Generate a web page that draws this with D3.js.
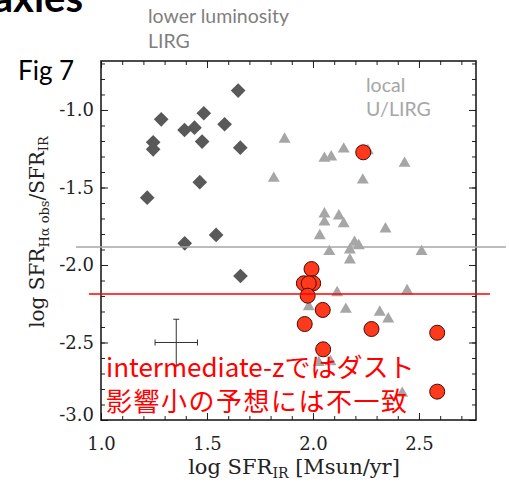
<!DOCTYPE html>
<html>
<head>
<meta charset="utf-8">
<script src="https://cdn.jsdelivr.net/npm/d3@7"></script>
<style>
  html, body { margin: 0; padding: 0; background: #fff; }
  svg { display: block; }
</style>
</head>
<body>
<svg id="chart" width="509" height="484"></svg>
<script>
// --- data ---
// lower luminosity LIRGs (dark diamonds)
const lirgX = [1.647, 1.485, 1.284, 1.583, 1.441, 1.394, 1.246, 1.477, 1.246, 1.657, 1.466, 1.218, 1.543, 1.395, 1.658];
const lirgY = [-0.875, -1.021, -1.060, -1.092, -1.114, -1.129, -1.208, -1.204, -1.254, -1.243, -1.466, -1.566, -1.806, -1.860, -2.071];

// local U/LIRGs (grey triangles)
const localX = [1.866, 1.815, 2.145, 2.259, 2.054, 2.086, 2.432, 2.235, 2.054, 2.054, 2.122, 2.145, 2.342, 2.032,
                2.196, 2.216, 2.174, 2.077, 2.512, 2.174, 2.114, 2.444, 1.980, 2.155, 2.315, 2.355, 2.027, 2.083, 2.421];
const localY = [-1.189, -1.441, -1.252, -1.263, -1.312, -1.303, -1.344, -1.452, -1.671, -1.723, -1.684, -1.734, -1.768, -1.811,
                -1.854, -1.876, -1.903, -1.914, -1.914, -1.968, -2.179, -2.166, -2.269, -2.286, -2.305, -2.348, -2.630, -2.624, -2.828];

// intermediate-z galaxies (red circles)
const interX = [2.237, 1.993, 1.957, 2.001, 1.980, 1.975, 2.046, 1.961, 2.048, 2.276, 2.586, 2.586];
const interY = [-1.273, -2.026, -2.118, -2.118, -2.118, -2.198, -2.290, -2.381, -2.544, -2.413, -2.437, -2.817];

// ticks
const xMajor = [1.0, 1.5, 2.0, 2.5];
const xMinor = d3.range(10, 28).map(d => d / 10);
const yMajor = [-3.0, -2.5, -2.0, -1.5, -1.0];
const yMinor = d3.range(-30, -6).map(d => d / 10);

// reference levels drawn over the slide (grey = local, red = intermediate-z)
const refLevels = [-1.884, -2.187];
const refFrom = [0.882, 0.943];
const refTo = [2.910, 2.835];
const refColors = ["#a6a6a6", "#ff0000"];

// typical error bar
const errCenter = [1.355, -2.5];
const errSize = [0.1, 0.15];

// --- layout ---
const svg = d3.select("#chart");
const pLeft = 101, pRight = 476, pTop = 61, pBottom = 420;

const x = d3.scaleLinear().domain([1.0, 2.769]).range([pLeft, pRight]);
const y = d3.scaleLinear().domain([-3.0, -0.684]).range([pBottom, pTop]);

const serif = "'DejaVu Serif', serif";
const sans = "Lato, 'Open Sans', sans-serif";

// 1) ticks on all four sides, pointing inwards
function tickAxis(gen, transform, values, size, labels) {
  const g = svg.append("g")
    .attr("transform", transform)
    .call(gen.tickValues(values).tickSize(size)
      .tickFormat(labels ? (d => d.toFixed(1)) : ""));
  g.select(".domain").remove();
  g.selectAll("line").attr("stroke", "#222").attr("stroke-width", 1);
  return g;
}

tickAxis(d3.axisBottom(x), `translate(0,${pBottom})`, xMinor, -4, false);
tickAxis(d3.axisTop(x), `translate(0,${pTop})`, xMinor, -4, false);
tickAxis(d3.axisTop(x), `translate(0,${pTop})`, xMajor, -7, false);
tickAxis(d3.axisLeft(y), `translate(${pLeft},0)`, yMinor, -4, false);
tickAxis(d3.axisRight(y), `translate(${pRight},0)`, yMinor, -4, false);
tickAxis(d3.axisRight(y), `translate(${pRight},0)`, yMajor, -7, false);

const xAx = tickAxis(d3.axisBottom(x), `translate(0,${pBottom})`, xMajor, -7, true);
xAx.selectAll("text")
  .attr("y", 30).attr("dy", null)
  .attr("font-family", serif).attr("font-size", 18).attr("fill", "#222");

const yAx = tickAxis(d3.axisLeft(y).tickPadding(7), `translate(${pLeft},0)`, yMajor, -7, true);
yAx.selectAll("text")
  .attr("font-family", serif).attr("font-size", 18).attr("fill", "#222")
  .attr("dy", d => d === -3.0 ? "0.05em" : "0.32em");

// frame
svg.append("rect")
  .attr("x", pLeft).attr("y", pTop)
  .attr("width", pRight - pLeft).attr("height", pBottom - pTop)
  .attr("fill", "none").attr("stroke", "#111").attr("stroke-width", 1.5);

// 2) markers
const plot = svg.append("g");

plot.append("g")
  .selectAll("path")
  .data(d3.zip(localX, localY))
  .enter().append("path")
    .attr("transform", d => `translate(${x(d[0])},${y(d[1])})`)
    .attr("d", d3.symbol(d3.symbolTriangle, 62))
    .attr("fill", "#a6a6a6");

plot.append("g")
  .selectAll("path")
  .data(d3.zip(lirgX, lirgY))
  .enter().append("path")
    .attr("transform", d => `translate(${x(d[0])},${y(d[1])}) rotate(45)`)
    .attr("d", d3.symbol(d3.symbolSquare, 108))
    .attr("fill", "#595959");

plot.append("g")
  .selectAll("circle")
  .data(d3.zip(interX, interY))
  .enter().append("circle")
    .attr("cx", d => x(d[0]))
    .attr("cy", d => y(d[1]))
    .attr("r", 7.5)
    .attr("fill", "#ff3a1c")
    .attr("stroke", "#4a0800")
    .attr("stroke-width", 1);

// 3) error bar
const eb = svg.append("g").attr("stroke", "#333").attr("stroke-width", 1).attr("fill", "none");
const [ex, ey] = errCenter;
eb.append("line").attr("x1", x(ex - errSize[0])).attr("x2", x(ex + errSize[0])).attr("y1", y(ey)).attr("y2", y(ey));
eb.append("line").attr("x1", x(ex)).attr("x2", x(ex)).attr("y1", y(ey - errSize[1])).attr("y2", y(ey + errSize[1]));
[ex - errSize[0], ex + errSize[0]].forEach(v =>
  eb.append("line").attr("x1", x(v)).attr("x2", x(v)).attr("y1", y(ey) - 3).attr("y2", y(ey) + 3));
[ey - errSize[1], ey + errSize[1]].forEach(v =>
  eb.append("line").attr("x1", x(ex) - 3).attr("x2", x(ex) + 3).attr("y1", y(v)).attr("y2", y(v)));

// 4) reference lines
svg.append("g")
  .selectAll("line")
  .data(refLevels)
  .enter().append("line")
    .attr("x1", (d, i) => x(refFrom[i]))
    .attr("x2", (d, i) => x(refTo[i]))
    .attr("y1", d => y(d))
    .attr("y2", d => y(d))
    .attr("stroke", (d, i) => refColors[i])
    .attr("stroke-width", 1.5);

// 5) axis titles
const xt = svg.append("text")
  .attr("x", 294).attr("y", 474)
  .attr("text-anchor", "middle")
  .attr("font-family", serif).attr("font-size", 21).attr("fill", "#222");
xt.append("tspan").text("log SFR");
xt.append("tspan").attr("font-size", 14).attr("dy", 4).text("IR");
xt.append("tspan").attr("dy", -4).text(" [Msun/yr]");

const yt = svg.append("text")
  .attr("transform", "translate(44,232) rotate(-90)")
  .attr("text-anchor", "middle")
  .attr("font-family", serif).attr("font-size", 20).attr("fill", "#222");
yt.append("tspan").text("log SFR");
yt.append("tspan").attr("font-size", 13).attr("dy", 5).text("Hα obs");
yt.append("tspan").attr("dy", -5).text("/SFR");
yt.append("tspan").attr("font-size", 13).attr("dy", 4).text("IR");

// 6) slide annotations (the slide title is cropped at the top edge, as in the source)
svg.append("text")
  .attr("x", 83).attr("y", 12).attr("text-anchor", "end")
  .attr("font-family", sans).attr("font-weight", 700).attr("font-size", 40)
  .attr("fill", "#000").text("axies");

svg.append("text")
  .attr("x", 18).attr("y", 80)
  .attr("font-family", sans).attr("font-size", 26)
  .attr("fill", "#000").text("Fig 7");

svg.append("text")
  .attr("x", 148).attr("y", 23)
  .attr("font-family", sans).attr("font-size", 19.5)
  .attr("fill", "#7f7f7f").text("lower luminosity");
svg.append("text")
  .attr("x", 148).attr("y", 48)
  .attr("font-family", sans).attr("font-size", 19.5)
  .attr("fill", "#7f7f7f").text("LIRG");

svg.append("text")
  .attr("x", 366).attr("y", 92)
  .attr("font-family", sans).attr("font-size", 19.5)
  .attr("fill", "#a6a6a6").text("local");
svg.append("text")
  .attr("x", 366).attr("y", 116)
  .attr("font-family", sans).attr("font-size", 19.5)
  .attr("fill", "#a6a6a6").text("U/LIRG");

const jp = "'Noto Sans CJK JP', sans-serif";
svg.append("text")
  .attr("x", 106).attr("y", 377)
  .attr("font-family", jp).attr("font-size", 26)
  .attr("fill", "#ff0000").text("intermediate-zではダスト");
svg.append("text")
  .attr("x", 106).attr("y", 411)
  .attr("font-family", jp).attr("font-size", 26).attr("letter-spacing", 1.5)
  .attr("fill", "#ff0000").text("影響小の予想には不一致");
</script>
</body>
</html>
